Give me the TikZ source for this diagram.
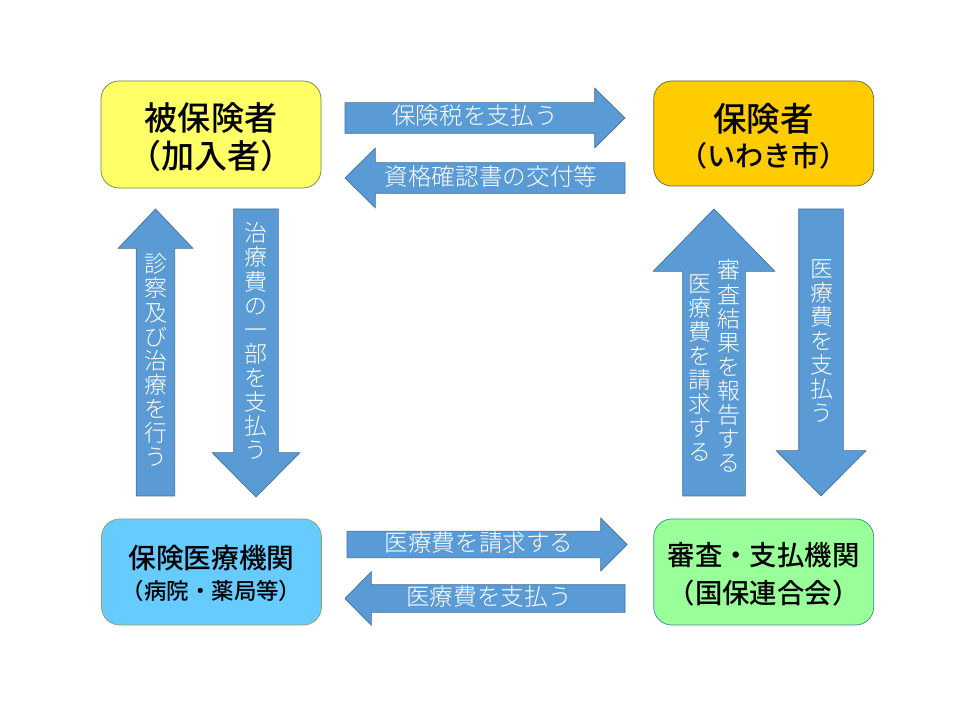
\documentclass[tikz,border=0pt]{standalone}
\usepackage{fontspec}
\setmainfont{Noto Sans CJK JP}
\newfontfamily\lightcjk{Noto Sans CJK JP Light}
\newfontfamily\mediumcjk{Noto Sans CJK JP Medium}
\usetikzlibrary{shapes.arrows}
\def\unitpx{0.025cm}
\def\jpfont#1#2{\fontsize{#1}{#2}\selectfont\lineskiplimit=-20pt\relax}
\def\dropline#1#2{\raisebox{-#1}[0.88em][0.12em]{#2}}
\definecolor{arrowblue}{HTML}{5B9BD5}
\definecolor{arrowline}{HTML}{41719C}
\definecolor{insuredfill}{HTML}{FFFF66}
\definecolor{insuredline}{HTML}{6F7F3F}
\definecolor{insurerfill}{HTML}{FFCC00}
\definecolor{insurerline}{HTML}{5C6B3A}
\definecolor{clinicfill}{HTML}{66CCFF}
\definecolor{clinicline}{HTML}{9AA05A}
\definecolor{reviewfill}{HTML}{99FF99}
\definecolor{reviewline}{HTML}{3E8A8A}
\tikzset{
	box/.style={draw=#1line, fill=#1fill, rounded corners=0.45cm, line width=0.5pt, align=center, inner sep=0, outer sep=0, minimum width=220*\unitpx},
	blockarrow/.style n args={4}{single arrow, draw=arrowline, fill=arrowblue, line width=0.5pt, inner sep={#3/2*\unitpx}, outer sep=0, anchor=tail,
		minimum height=#1*\unitpx, minimum width=#2*\unitpx, single arrow head extend={(#2-#3)/2*\unitpx},
		single arrow tip angle={2*atan((#2/2)/#4)}},
	lying/.style={text=white, inner sep=0, font=\lightcjk\jpfont{16.8}{17}},
	standing/.style={text=white, inner sep=0, align=center, font=\lightcjk\jpfont{16.3}{17.1}},
}
\begin{document}
\begin{tikzpicture}[x=0.025cm, y=-0.025cm]
	\useasboundingbox (0,0) rectangle (960,720);
	
	%%%%% boxes %%%%%
	\node[box=insured, minimum height=107*\unitpx, font=\mediumcjk\jpfont{23.5}{27}] (insured) at (211,134.5) {\dropline{1.5pt}{被保険者}\\\dropline{1.5pt}{（加入者）}};
	\node[box=insurer, minimum height=105*\unitpx, font=\mediumcjk\jpfont{23.8}{26}] (insurer) at (763.7,133.5) {\dropline{2pt}{保険者}\\\jpfont{20}{26}\dropline{1pt}{（いわき市）}};
	\node[box=clinic, minimum height=106*\unitpx, font=\mediumcjk\jpfont{19.7}{23}] (clinic) at (211.5,572) {\dropline{1.5pt}{保険医療機関}\\\jpfont{16}{23}\dropline{0pt}{（病院・薬局等）}};
	\node[box=review, minimum height=106*\unitpx, font=\mediumcjk\jpfont{19.5}{27}] (review) at (763.7,572) {\dropline{1.5pt}{審査・支払機関}\\\dropline{1.5pt}{（国保連合会）}};
	
	%%%%% top row %%%%%
	\node[blockarrow={280}{59}{30}{30}] (payTax) at (345,118) {};
	\node[lying] (payTaxText) at (475,116) {保険税を支払う};
	\node[blockarrow={280}{59}{30}{30}, shape border rotate=180] (issueCard) at (625,178) {};
	\node[lying] (issueCardText) at (491,177) {資格確認書の交付等};
	
	%%%%% bottom row %%%%%
	\node[blockarrow={280}{52}{26}{26}] (billFee) at (347,544.5) {};
	\node[lying] (billFeeText) at (479,543) {医療費を請求する};
	\node[blockarrow={280}{53}{27}{26}, shape border rotate=180] (payClinic) at (625,598.5) {};
	\node[lying] (payClinicText) at (489,597) {医療費を支払う};
	
	%%%%% left column %%%%%
	\node[blockarrow={287}{74}{38}{39}, shape border rotate=90] (treat) at (155.5,496) {};
	\node[standing] (treatText) at (156,360) {診\\察\\及\\び\\治\\療\\を\\行\\う};
	\node[blockarrow={288}{87}{44}{44}, shape border rotate=270] (copay) at (256,209) {};
	\node[standing] (copayText) at (256,341) {治\\療\\費\\の\\一\\部\\を\\支\\払\\う};
	
	%%%%% right column %%%%%
	\node[blockarrow={287}{121}{62}{62}, shape border rotate=90] (report) at (714,496) {};
	\node[standing] (reportText) at (729,366) {審\\査\\結\\果\\を\\報\\告\\す\\る};
	\node[standing] (claimText) at (700,368) {医\\療\\費\\を\\請\\求\\す\\る};
	\node[blockarrow={287}{89}{44}{45}, shape border rotate=270] (payReview) at (821,209) {};
	\node[standing] (payReviewText) at (822,341) {医\\療\\費\\を\\支\\払\\う};
\end{tikzpicture}
\end{document}
